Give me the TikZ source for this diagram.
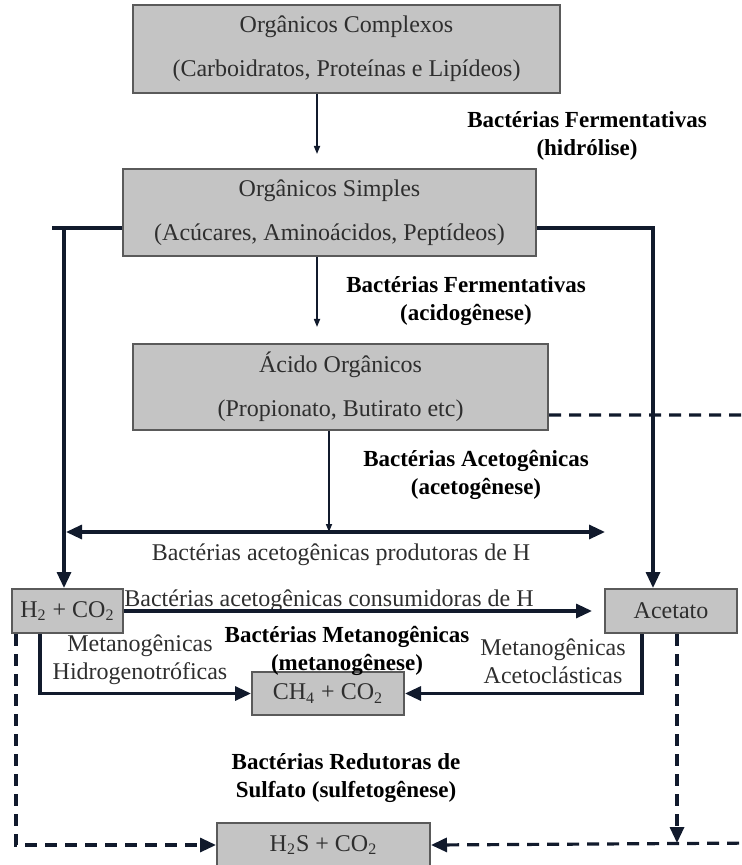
\documentclass[tikz,border=0pt]{standalone}
\usepackage{fontspec}
\setmainfont{Liberation Serif}
\usetikzlibrary{arrows.meta}
\definecolor{boxgray}{HTML}{C4C4C4}
\definecolor{edgegray}{HTML}{5A5A5A}
\definecolor{lineblue}{HTML}{111A2C}
\definecolor{textgray}{HTML}{2E2E2E}

\begin{document}
\begin{tikzpicture}[x=0.5pt,y=-0.5pt,
  box/.style={rectangle,draw=edgegray,fill=boxgray,line width=1pt,text=textgray,font=\fontsize{12}{14}\selectfont,align=center,inner sep=0pt},
  bigbox/.style={box,font=\fontsize{12}{22}\selectfont},
  lab/.style={text=textgray,font=\fontsize{12}{14}\selectfont,align=center,inner sep=0pt},
  boldlab/.style={lab,text=black,font=\fontsize{11.5}{14}\selectfont\bfseries},
  flow/.style={lineblue,line width=1.6pt,-{Triangle[length=8pt,width=7pt]}},
  thinflow/.style={lineblue,line width=0.8pt,-{Triangle[length=4pt,width=3pt]}},
  sulf/.style={flow,dash pattern=on 6pt off 4pt}]
\clip (0,0) rectangle (741,865);
% Boxes
\node at (346.5,49) [bigbox,minimum width=213.5pt,minimum height=44pt] (Box1) {Orgânicos Complexos\\(Carboidratos, Proteínas e Lipídeos)};
\node at (329.5,212.5) [bigbox,minimum width=206.5pt,minimum height=43.5pt] (Box2) {Orgânicos Simples\\(Acúcares, Aminoácidos, Peptídeos)};
\node at (340.5,387) [bigbox,minimum width=207.5pt,minimum height=43pt] (Box3) {Ácido Orgânicos\\(Propionato, Butirato etc)};
\node at (67.5,611) [box,minimum width=55.5pt,minimum height=22pt] (Box5) {H\textsubscript{2} + CO\textsubscript{2}};
\node at (671,611) [box,minimum width=66pt,minimum height=22pt] (Box6) {Acetato};
\node at (328,693.5) [box,minimum width=76pt,minimum height=21.5pt] (Box7) {CH\textsubscript{4} + CO\textsubscript{2}};
\node at (323.5,845) [box,minimum width=106.5pt,minimum height=22pt] (Box8) {H\textsubscript{2}S + CO\textsubscript{2}};
% Labels
\node at (587,136) [boldlab] (Label1) {Bactérias Fermentativas\\(hidrólise)};
\node at (466,301) [boldlab] (Label2) {Bactérias Fermentativas\\(acidogênese)};
\node at (476,475) [boldlab] (Label3) {Bactérias Acetogênicas\\(acetogênese)};
\node at (341,555) [lab] (Label4) {Bactérias acetogênicas produtoras de H};
\node at (329,601) [lab] (Label5) {Bactérias acetogênicas consumidoras de H};
\node at (140,660) [lab] (Label6) {Metanogênicas\\Hidrogenotróficas};
\node at (347,651) [boldlab] (Label7) {Bactérias Metanogênicas\\(metanogênese)};
\node at (553,661) [lab] (Label8) {Metanogênicas\\Acetoclásticas};
\node at (346,778) [boldlab] (Label9) {Bactérias Redutoras de\\Sulfato (sulfetogênese)};
% Corners
\coordinate (Col1) at (317,0);
\coordinate (StubL) at (52,228);
\coordinate (ColL) at (64,228);
\coordinate (ColR) at (653,228);
\coordinate (Col2) at (329,532);
\coordinate (BarL) at (66,532);
\coordinate (BarR) at (605,532);
\coordinate (MetL) at (40,693);
\coordinate (MetR) at (642,693);
\coordinate (SulL) at (16,843);
\coordinate (SulR) at (677,843);
\coordinate (EdgeA) at (760,415);
\coordinate (EdgeB) at (760,843);
% Connections
\draw [thinflow,shorten >=7pt] (Box1.south -| Col1) -- (Box2.north -| Col1);
\draw [thinflow,shorten >=8pt] (Box2.south -| Col1) -- (Box3.north -| Col1);
\draw [lineblue,line width=1.6pt] (Box2.west |- StubL) -- (StubL);
\draw [flow] (ColL) -- (ColL |- Box5.north);
\draw [flow] (Box2.east |- ColR) -- (ColR) -- (ColR |- Box6.north);
\draw [thinflow] (Box3.south -| Col2) -- (Col2);
\draw [lineblue,line width=1.6pt,{Triangle[length=8pt,width=7pt]}-{Triangle[length=8pt,width=7pt]}] (BarL) -- (BarR);
\draw [flow,shorten >=6pt] (Box5.east) -- (Box6.west);
\draw [flow] (Box5.south -| MetL) |- (Box7.west);
\draw [flow] (Box6.south -| MetR) |- (Box7.east);
\draw [sulf] (Box5.south -| SulL) |- (Box8.west);
\draw [sulf] (Box6.south -| SulR) -- (SulR);
\draw [sulf] (Box3.east |- EdgeA) -- (EdgeA) -- (EdgeB) -- (Box8.east);
\end{tikzpicture}
\end{document}
